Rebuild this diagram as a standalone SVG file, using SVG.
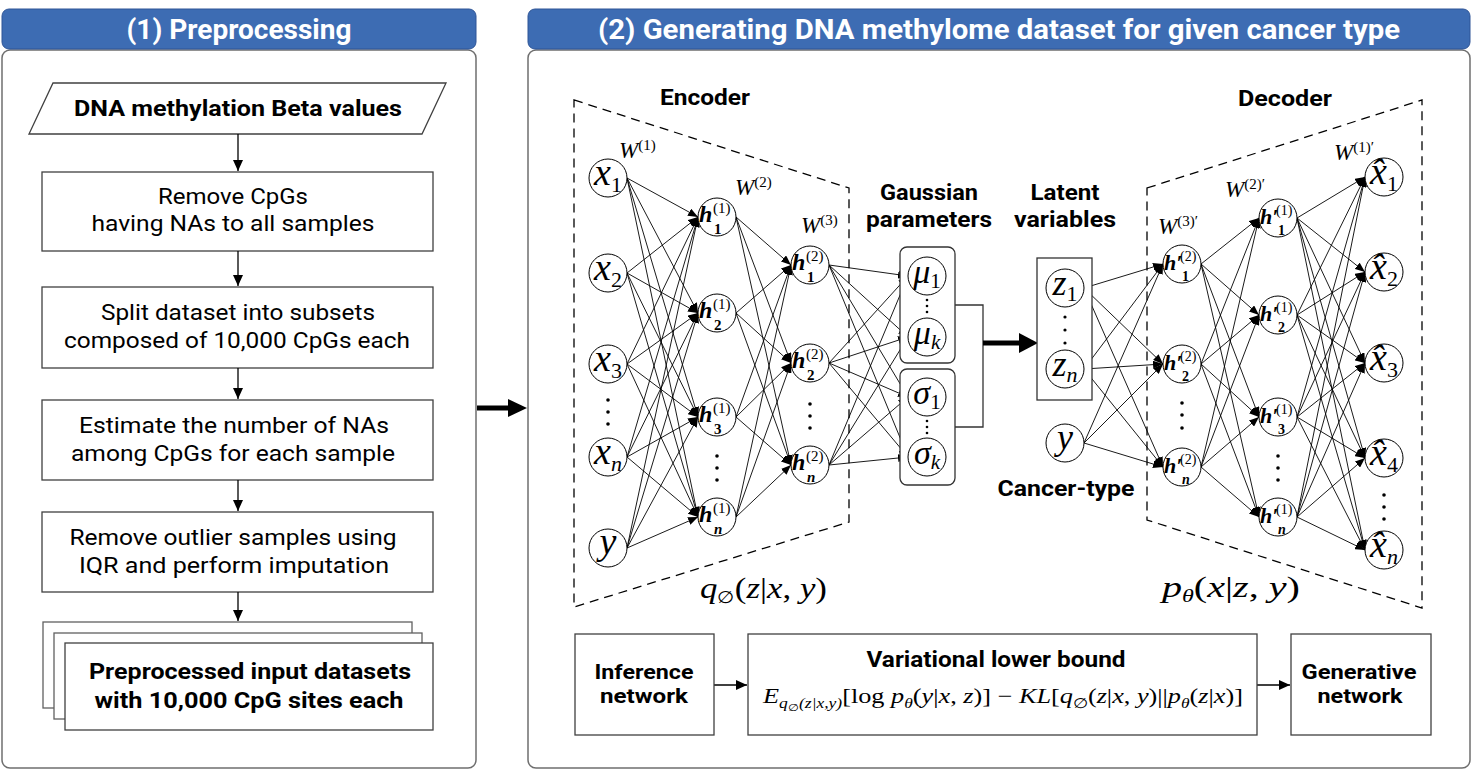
<svg xmlns="http://www.w3.org/2000/svg" width="1473" height="771" viewBox="0 0 1473 771">
<style>
.panel{fill:#fff;stroke:#6f6f6f;stroke-width:1.5}
.hdr{fill:#3D6CB3;stroke:#2F5597;stroke-width:1}
.ht{font-family:Roboto,"Noto Sans",sans-serif;font-weight:bold;font-size:27px;fill:#fff;text-anchor:middle}
.box{fill:#fff;stroke:#404040;stroke-width:1.3}
.t{font-family:Roboto,"Noto Sans",sans-serif;font-size:22px;fill:#000;text-anchor:middle}
.s{font-size:20px}
.b{font-weight:bold}
.nd{fill:#fff;stroke:#000;stroke-width:1}
.m{font-family:"Liberation Serif",serif;font-style:italic;fill:#000}
.ml{font-family:"Liberation Serif",serif;font-style:italic;fill:#000;text-anchor:middle}
.hb{font-family:"Liberation Serif",serif;font-style:italic;font-weight:bold;fill:#000}
.up{font-style:normal}
.e{stroke:#000;stroke-width:0.9;fill:none;marker-end:url(#ah)}
.fa{stroke:#000;stroke-width:1.3;fill:none;marker-end:url(#ah2)}
.dash{fill:none;stroke:#000;stroke-width:1.3;stroke-dasharray:9 6}
.dot{fill:#000}
</style>
<defs>
<marker id="ah" markerUnits="userSpaceOnUse" markerWidth="10" markerHeight="8" refX="10" refY="4" orient="auto"><path d="M0,0L10,4L0,8Z" fill="#000"/></marker>
<marker id="ah2" markerUnits="userSpaceOnUse" markerWidth="11" markerHeight="10" refX="11" refY="5" orient="auto"><path d="M0,0L11,5L0,10Z" fill="#000"/></marker>
</defs>

<g id="panel1">
<rect class="panel" x="2" y="50" width="474" height="718" rx="8"/>
<rect class="hdr" x="2" y="9" width="474" height="40" rx="7"/>
<text class="ht" x="239" y="39" textLength="225" lengthAdjust="spacingAndGlyphs">(1) Preprocessing</text>
</g>
<g id="panel2">
<rect class="panel" x="528" y="50" width="942" height="718" rx="8"/>
<rect class="hdr" x="528" y="9" width="942" height="40" rx="7"/>
<text class="ht" x="999" y="39" textLength="802" lengthAdjust="spacingAndGlyphs">(2) Generating DNA methylome dataset for given cancer type</text>
</g>

<g id="input">
<polygon class="box" points="53,83 446,83 422,134 29,134"/>
<text class="t b" x="238" y="116" textLength="328" lengthAdjust="spacingAndGlyphs">DNA methylation Beta values</text>
</g>
<g id="step1">
<rect class="box" x="42" y="172" width="391" height="79"/>
<text class="t" x="233" y="204" textLength="150" lengthAdjust="spacingAndGlyphs">Remove CpGs</text>
<text class="t" x="233" y="231" textLength="283" lengthAdjust="spacingAndGlyphs">having NAs to all samples</text>
</g>
<g id="step2">
<rect class="box" x="42" y="287" width="391" height="81"/>
<text class="t" x="238" y="320" textLength="274" lengthAdjust="spacingAndGlyphs">Split dataset into subsets</text>
<text class="t" x="237" y="348" textLength="346" lengthAdjust="spacingAndGlyphs">composed of 10,000 CpGs each</text>
</g>
<g id="step3">
<rect class="box" x="42" y="400" width="391" height="80"/>
<text class="t" x="234" y="433" textLength="310" lengthAdjust="spacingAndGlyphs">Estimate the number of NAs</text>
<text class="t" x="233" y="461" textLength="324" lengthAdjust="spacingAndGlyphs">among CpGs for each sample</text>
</g>
<g id="step4">
<rect class="box" x="42" y="512" width="391" height="80"/>
<text class="t" x="233" y="545" textLength="327" lengthAdjust="spacingAndGlyphs">Remove outlier samples using</text>
<text class="t" x="234" y="573" textLength="310" lengthAdjust="spacingAndGlyphs">IQR and perform imputation</text>
</g>
<g id="output">
<rect class="box" x="43" y="622" width="369" height="86" style="stroke:#606060"/>
<rect class="box" x="54" y="633" width="368" height="86" style="stroke:#606060"/>
<rect class="box" x="65" y="643" width="368" height="87"/>
<text class="t b" x="250" y="679" textLength="322" lengthAdjust="spacingAndGlyphs">Preprocessed input datasets</text>
<text class="t b" x="249" y="708" textLength="309" lengthAdjust="spacingAndGlyphs">with 10,000 CpG sites each</text>
</g>

<g id="flow-connectors">
<path class="fa" d="M238 134L238 171"/>
<path class="fa" d="M238 251L238 286"/>
<path class="fa" d="M238 368L238 399"/>
<path class="fa" d="M238 480L238 511"/>
<path class="fa" d="M238 592L238 621"/>
<line x1="477" y1="408" x2="510" y2="408" stroke="#000" stroke-width="5"/>
<polygon points="508,399 527,408 508,417" fill="#000"/>
</g>

<g id="encoder-frame">
<polygon class="dash" points="574,100 849,188 849,522 574,607"/>
<text class="t b" x="705" y="105" textLength="90" lengthAdjust="spacingAndGlyphs">Encoder</text>
<text class="m" x="700" y="598" font-size="30" textLength="127" lengthAdjust="spacingAndGlyphs">q<tspan class="up" font-size="17" dy="5">∅</tspan><tspan class="up" dy="-5">(</tspan>z<tspan class="up">|</tspan>x<tspan class="up">, </tspan>y<tspan class="up">)</tspan></text>
</g>
<g id="decoder-frame">
<polygon class="dash" points="1147,188 1422,100 1422,608 1147,520"/>
<text class="t b" x="1285" y="106" textLength="94" lengthAdjust="spacingAndGlyphs">Decoder</text>
<text class="m" x="1162" y="597" font-size="30" textLength="138" lengthAdjust="spacingAndGlyphs">p<tspan font-size="18" dy="5">θ</tspan><tspan class="up" dy="-5">(</tspan>x<tspan class="up">|</tspan>z<tspan class="up">, </tspan>y<tspan class="up">)</tspan></text>
</g>

<g id="weight-labels">
<text class="m" x="619" y="158" font-size="23">W<tspan class="up" font-size="15" dy="-8">(1)</tspan></text>
<text class="m" x="735" y="195" font-size="23">W<tspan class="up" font-size="15" dy="-8">(2)</tspan></text>
<text class="m" x="801" y="233" font-size="23">W<tspan class="up" font-size="15" dy="-8">(3)</tspan></text>
<text class="m" x="1158" y="234" font-size="23">W<tspan class="up" font-size="15" dy="-8">(3)′</tspan></text>
<text class="m" x="1225" y="197" font-size="23">W<tspan class="up" font-size="15" dy="-8">(2)′</tspan></text>
<text class="m" x="1334" y="160" font-size="23">W<tspan class="up" font-size="15" dy="-8">(1)′</tspan></text>
</g>

<g id="section-labels">
<text class="t b" x="929" y="200" textLength="98" lengthAdjust="spacingAndGlyphs">Gaussian</text>
<text class="t b" x="929" y="227" textLength="126" lengthAdjust="spacingAndGlyphs">parameters</text>
<text class="t b" x="1065" y="200" textLength="69" lengthAdjust="spacingAndGlyphs">Latent</text>
<text class="t b" x="1065" y="227" textLength="102" lengthAdjust="spacingAndGlyphs">variables</text>
<text class="t b" x="1066" y="496" textLength="137" lengthAdjust="spacingAndGlyphs">Cancer-type</text>
</g>

<g id="connectors">
<path class="e" d="M627 178L698 217"/><path class="e" d="M627 178L698 313"/><path class="e" d="M627 178L698 417"/><path class="e" d="M627 178L698 517"/>
<path class="e" d="M627 273L698 217"/><path class="e" d="M627 273L698 313"/><path class="e" d="M627 273L698 417"/><path class="e" d="M627 273L698 517"/>
<path class="e" d="M627 364L698 217"/><path class="e" d="M627 364L698 313"/><path class="e" d="M627 364L698 417"/><path class="e" d="M627 364L698 517"/>
<path class="e" d="M627 457L698 217"/><path class="e" d="M627 457L698 313"/><path class="e" d="M627 457L698 417"/><path class="e" d="M627 457L698 517"/>
<path class="e" d="M627 548L698 217"/><path class="e" d="M627 548L698 313"/><path class="e" d="M627 548L698 417"/><path class="e" d="M627 548L698 517"/>

<path class="e" d="M736 217L791 265"/><path class="e" d="M736 217L791 363"/><path class="e" d="M736 217L791 465"/>
<path class="e" d="M736 313L791 265"/><path class="e" d="M736 313L791 363"/><path class="e" d="M736 313L791 465"/>
<path class="e" d="M736 417L791 265"/><path class="e" d="M736 417L791 363"/><path class="e" d="M736 417L791 465"/>
<path class="e" d="M736 517L791 265"/><path class="e" d="M736 517L791 363"/><path class="e" d="M736 517L791 465"/>

<path class="e" d="M829 265L908 276"/><path class="e" d="M829 265L908 337"/><path class="e" d="M829 265L908 397"/><path class="e" d="M829 265L908 457"/>
<path class="e" d="M829 363L908 276"/><path class="e" d="M829 363L908 337"/><path class="e" d="M829 363L908 397"/><path class="e" d="M829 363L908 457"/>
<path class="e" d="M829 465L908 276"/><path class="e" d="M829 465L908 337"/><path class="e" d="M829 465L908 397"/><path class="e" d="M829 465L908 457"/>

<path class="e" d="M1084 288L1163 264"/><path class="e" d="M1084 288L1163 364"/><path class="e" d="M1084 288L1163 467"/>
<path class="e" d="M1084 369L1163 264"/><path class="e" d="M1084 369L1163 364"/><path class="e" d="M1084 369L1163 467"/>
<path class="e" d="M1084 443L1163 264"/><path class="e" d="M1084 443L1163 364"/><path class="e" d="M1084 443L1163 467"/>

<path class="e" d="M1201 264L1259 218"/><path class="e" d="M1201 264L1259 315"/><path class="e" d="M1201 264L1259 417"/><path class="e" d="M1201 264L1259 517"/>
<path class="e" d="M1201 364L1259 218"/><path class="e" d="M1201 364L1259 315"/><path class="e" d="M1201 364L1259 417"/><path class="e" d="M1201 364L1259 517"/>
<path class="e" d="M1201 467L1259 218"/><path class="e" d="M1201 467L1259 315"/><path class="e" d="M1201 467L1259 417"/><path class="e" d="M1201 467L1259 517"/>

<path class="e" d="M1297 218L1365 177"/><path class="e" d="M1297 218L1365 272"/><path class="e" d="M1297 218L1365 363"/><path class="e" d="M1297 218L1365 458"/><path class="e" d="M1297 218L1365 550"/>
<path class="e" d="M1297 315L1365 177"/><path class="e" d="M1297 315L1365 272"/><path class="e" d="M1297 315L1365 363"/><path class="e" d="M1297 315L1365 458"/><path class="e" d="M1297 315L1365 550"/>
<path class="e" d="M1297 417L1365 177"/><path class="e" d="M1297 417L1365 272"/><path class="e" d="M1297 417L1365 363"/><path class="e" d="M1297 417L1365 458"/><path class="e" d="M1297 417L1365 550"/>
<path class="e" d="M1297 517L1365 177"/><path class="e" d="M1297 517L1365 272"/><path class="e" d="M1297 517L1365 363"/><path class="e" d="M1297 517L1365 458"/><path class="e" d="M1297 517L1365 550"/>

<polyline points="955,305 983,305 983,427 955,427" fill="none" stroke="#333" stroke-width="1.3"/>
<line x1="983" y1="343" x2="1021" y2="343" stroke="#000" stroke-width="5"/>
<polygon points="1019,333 1038,343 1019,353" fill="#000"/>

<path class="fa" d="M714 685L747 685"/>
<path class="fa" d="M1257 685L1290 685"/>
</g>

<g id="x1"><circle class="nd" cx="608" cy="178" r="19"/><text class="ml" x="608" y="185" font-size="38">x<tspan class="up" font-size="22" dy="7">1</tspan></text></g>
<g id="x2"><circle class="nd" cx="608" cy="273" r="19"/><text class="ml" x="608" y="280" font-size="38">x<tspan class="up" font-size="22" dy="7">2</tspan></text></g>
<g id="x3"><circle class="nd" cx="608" cy="364" r="19"/><text class="ml" x="608" y="371" font-size="38">x<tspan class="up" font-size="22" dy="7">3</tspan></text></g>
<g id="xn"><circle class="nd" cx="608" cy="457" r="19"/><text class="ml" x="608" y="464" font-size="38">x<tspan font-size="22" dy="7">n</tspan></text></g>
<g id="y-in"><circle class="nd" cx="608" cy="548" r="19"/><text class="ml" x="608" y="554" font-size="38">y</text></g>
<g id="x-dots"><circle class="dot" cx="608" cy="400" r="1.8"/><circle class="dot" cx="608" cy="412" r="1.8"/><circle class="dot" cx="608" cy="424" r="1.8"/></g>

<g id="h1-1"><circle class="nd" cx="717" cy="217" r="19"/><text class="hb" x="699" y="222" font-size="24">h<tspan class="up" font-weight="normal" font-size="15" x="713" y="213">(1)</tspan><tspan class="up" font-size="15" x="714" y="234">1</tspan></text></g>
<g id="h1-2"><circle class="nd" cx="717" cy="313" r="19"/><text class="hb" x="699" y="318" font-size="24">h<tspan class="up" font-weight="normal" font-size="15" x="713" y="309">(1)</tspan><tspan class="up" font-size="15" x="714" y="330">2</tspan></text></g>
<g id="h1-3"><circle class="nd" cx="717" cy="417" r="19"/><text class="hb" x="699" y="422" font-size="24">h<tspan class="up" font-weight="normal" font-size="15" x="713" y="413">(1)</tspan><tspan class="up" font-size="15" x="714" y="434">3</tspan></text></g>
<g id="h1-n"><circle class="nd" cx="717" cy="517" r="19"/><text class="hb" x="699" y="522" font-size="24">h<tspan class="up" font-weight="normal" font-size="15" x="713" y="513">(1)</tspan><tspan font-size="15" x="714" y="534">n</tspan></text></g>
<g id="h1-dots"><circle class="dot" cx="717" cy="456" r="1.8"/><circle class="dot" cx="717" cy="468" r="1.8"/><circle class="dot" cx="717" cy="480" r="1.8"/></g>

<g id="h2-1"><circle class="nd" cx="810" cy="265" r="19"/><text class="hb" x="792" y="270" font-size="24">h<tspan class="up" font-weight="normal" font-size="15" x="806" y="261">(2)</tspan><tspan class="up" font-size="15" x="807" y="282">1</tspan></text></g>
<g id="h2-2"><circle class="nd" cx="810" cy="363" r="19"/><text class="hb" x="792" y="368" font-size="24">h<tspan class="up" font-weight="normal" font-size="15" x="806" y="359">(2)</tspan><tspan class="up" font-size="15" x="807" y="380">2</tspan></text></g>
<g id="h2-n"><circle class="nd" cx="810" cy="465" r="19"/><text class="hb" x="792" y="470" font-size="24">h<tspan class="up" font-weight="normal" font-size="15" x="806" y="461">(2)</tspan><tspan font-size="15" x="807" y="482">n</tspan></text></g>
<g id="h2-dots"><circle class="dot" cx="810" cy="404" r="1.8"/><circle class="dot" cx="810" cy="416" r="1.8"/><circle class="dot" cx="810" cy="428" r="1.8"/></g>

<g id="mu-group">
<rect x="900" y="247" width="55" height="116" rx="7" fill="#fff" stroke="#333" stroke-width="1.3"/>
<circle class="nd" cx="927" cy="276" r="19"/><text class="ml" x="927" y="283" font-size="34">μ<tspan class="up" font-size="21" dy="5">1</tspan></text>
<circle class="dot" cx="927" cy="300" r="1.3"/><circle class="dot" cx="927" cy="306" r="1.3"/><circle class="dot" cx="927" cy="312" r="1.3"/>
<circle class="nd" cx="927" cy="337" r="19"/><text class="ml" x="927" y="344" font-size="34">μ<tspan font-size="21" dy="5">k</tspan></text>
</g>
<g id="sigma-group">
<rect x="900" y="369" width="55" height="116" rx="7" fill="#fff" stroke="#333" stroke-width="1.3"/>
<circle class="nd" cx="927" cy="397" r="19"/><text class="ml" x="927" y="404" font-size="34">σ<tspan class="up" font-size="21" dy="5">1</tspan></text>
<circle class="dot" cx="927" cy="421" r="1.3"/><circle class="dot" cx="927" cy="427" r="1.3"/><circle class="dot" cx="927" cy="433" r="1.3"/>
<circle class="nd" cx="927" cy="457" r="19"/><text class="ml" x="927" y="464" font-size="34">σ<tspan font-size="21" dy="5">k</tspan></text>
</g>

<g id="z-group">
<rect x="1037" y="258" width="55" height="142" fill="#fff" stroke="#333" stroke-width="1.3"/>
<circle class="nd" cx="1065" cy="288" r="19"/><text class="ml" x="1065" y="295" font-size="36">z<tspan class="up" font-size="22" dy="6">1</tspan></text>
<circle class="dot" cx="1065" cy="317" r="1.6"/><circle class="dot" cx="1065" cy="330" r="1.6"/><circle class="dot" cx="1065" cy="343" r="1.6"/>
<circle class="nd" cx="1065" cy="369" r="19"/><text class="ml" x="1065" y="376" font-size="36">z<tspan font-size="22" dy="6">n</tspan></text>
</g>
<g id="y-latent"><circle class="nd" cx="1065" cy="443" r="19"/><text class="ml" x="1065" y="449" font-size="36">y</text></g>

<g id="hp2-1"><circle class="nd" cx="1182" cy="264" r="19"/><text class="hb" x="1164" y="270" font-size="22">h′<tspan class="up" font-weight="normal" font-size="14" x="1180" y="261">(2)</tspan><tspan class="up" font-size="14" x="1182" y="281">1</tspan></text></g>
<g id="hp2-2"><circle class="nd" cx="1182" cy="364" r="19"/><text class="hb" x="1164" y="370" font-size="22">h′<tspan class="up" font-weight="normal" font-size="14" x="1180" y="361">(2)</tspan><tspan class="up" font-size="14" x="1182" y="381">2</tspan></text></g>
<g id="hp2-n"><circle class="nd" cx="1182" cy="467" r="19"/><text class="hb" x="1164" y="473" font-size="22">h′<tspan class="up" font-weight="normal" font-size="14" x="1180" y="464">(2)</tspan><tspan font-size="14" x="1182" y="484">n</tspan></text></g>
<g id="hp2-dots"><circle class="dot" cx="1182" cy="403" r="1.8"/><circle class="dot" cx="1182" cy="415" r="1.8"/><circle class="dot" cx="1182" cy="428" r="1.8"/></g>

<g id="hp1-1"><circle class="nd" cx="1278" cy="218" r="19"/><text class="hb" x="1260" y="224" font-size="22">h′<tspan class="up" font-weight="normal" font-size="14" x="1276" y="215">(1)</tspan><tspan class="up" font-size="14" x="1278" y="235">1</tspan></text></g>
<g id="hp1-2"><circle class="nd" cx="1278" cy="315" r="19"/><text class="hb" x="1260" y="321" font-size="22">h′<tspan class="up" font-weight="normal" font-size="14" x="1276" y="312">(1)</tspan><tspan class="up" font-size="14" x="1278" y="332">2</tspan></text></g>
<g id="hp1-3"><circle class="nd" cx="1278" cy="417" r="19"/><text class="hb" x="1260" y="423" font-size="22">h′<tspan class="up" font-weight="normal" font-size="14" x="1276" y="414">(1)</tspan><tspan class="up" font-size="14" x="1278" y="434">3</tspan></text></g>
<g id="hp1-n"><circle class="nd" cx="1278" cy="517" r="19"/><text class="hb" x="1260" y="523" font-size="22">h′<tspan class="up" font-weight="normal" font-size="14" x="1276" y="514">(1)</tspan><tspan font-size="14" x="1278" y="534">n</tspan></text></g>
<g id="hp1-dots"><circle class="dot" cx="1278" cy="456" r="1.8"/><circle class="dot" cx="1278" cy="468" r="1.8"/><circle class="dot" cx="1278" cy="480" r="1.8"/></g>

<g id="xh1"><circle class="nd" cx="1384" cy="177" r="19"/><text class="ml" x="1384" y="184" font-size="38">x̂<tspan class="up" font-size="22" dy="7">1</tspan></text></g>
<g id="xh2"><circle class="nd" cx="1384" cy="272" r="19"/><text class="ml" x="1384" y="279" font-size="38">x̂<tspan class="up" font-size="22" dy="7">2</tspan></text></g>
<g id="xh3"><circle class="nd" cx="1384" cy="363" r="19"/><text class="ml" x="1384" y="370" font-size="38">x̂<tspan class="up" font-size="22" dy="7">3</tspan></text></g>
<g id="xh4"><circle class="nd" cx="1384" cy="458" r="19"/><text class="ml" x="1384" y="465" font-size="38">x̂<tspan class="up" font-size="22" dy="7">4</tspan></text></g>
<g id="xhn"><circle class="nd" cx="1384" cy="550" r="19"/><text class="ml" x="1384" y="557" font-size="38">x̂<tspan font-size="22" dy="7">n</tspan></text></g>
<g id="xh-dots"><circle class="dot" cx="1384" cy="495" r="1.8"/><circle class="dot" cx="1384" cy="507" r="1.8"/><circle class="dot" cx="1384" cy="519" r="1.8"/></g>

<g id="inference">
<rect class="box" x="575" y="634" width="139" height="101"/>
<text class="t b s" x="644" y="679" textLength="99" lengthAdjust="spacingAndGlyphs">Inference</text>
<text class="t b s" x="644" y="703" textLength="88" lengthAdjust="spacingAndGlyphs">network</text>
</g>
<g id="vlb">
<rect class="box" x="748" y="634" width="509" height="101"/>
<text class="t b" x="996" y="667" textLength="259" lengthAdjust="spacingAndGlyphs">Variational lower bound</text>
<text class="m" x="763" y="703" font-size="21" textLength="480" lengthAdjust="spacingAndGlyphs">E<tspan font-size="14" dy="5">q</tspan><tspan class="up" font-size="10" dy="3">∅</tspan><tspan font-size="14" dy="-3">(z|x,y)</tspan><tspan class="up" dy="-5">[log </tspan>p<tspan font-size="14" dy="5">θ</tspan><tspan class="up" dy="-5">(</tspan>y<tspan class="up">|</tspan>x<tspan class="up">, </tspan>z<tspan class="up">)] − </tspan>KL<tspan class="up">[</tspan>q<tspan class="up" font-size="14" dy="5">∅</tspan><tspan class="up" dy="-5">(</tspan>z<tspan class="up">|</tspan>x<tspan class="up">, </tspan>y<tspan class="up">)||</tspan>p<tspan font-size="14" dy="5">θ</tspan><tspan class="up" dy="-5">(</tspan>z<tspan class="up">|</tspan>x<tspan class="up">)]</tspan></text>
</g>
<g id="generative">
<rect class="box" x="1291" y="634" width="140" height="101"/>
<text class="t b s" x="1359" y="679" textLength="115" lengthAdjust="spacingAndGlyphs">Generative</text>
<text class="t b s" x="1360" y="703" textLength="85" lengthAdjust="spacingAndGlyphs">network</text>
</g>
</svg>
